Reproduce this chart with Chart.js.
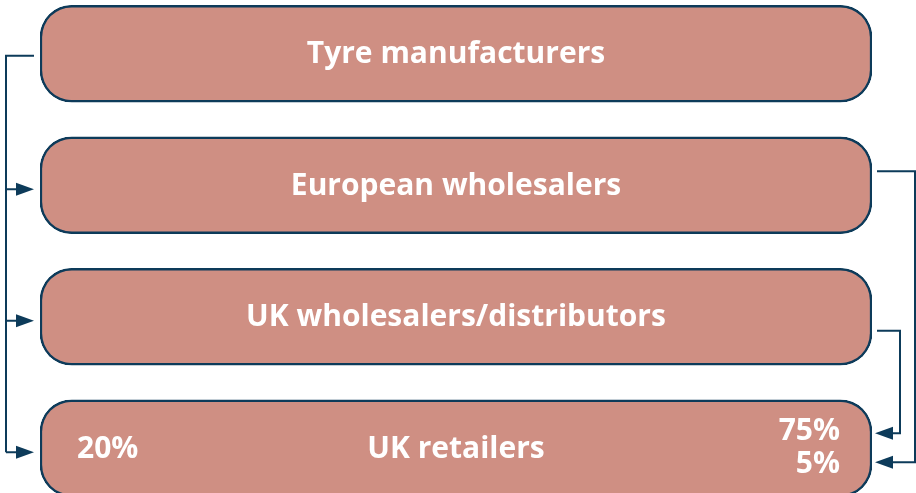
<!DOCTYPE html>
<html>
<head>
<meta charset="utf-8">
<script src="https://cdn.jsdelivr.net/npm/chart.js@4"></script>
<style>
  html, body { margin: 0; padding: 0; background: #fff; overflow: hidden; }
  #wrap { margin-top: -12px; width: 916px; height: 526px; }
</style>
</head>
<body>
<div id="wrap"><canvas id="flowChart" width="916" height="526"></canvas></div>
<script>
// supply chain stages, top to bottom
const stages = ['Tyre manufacturers', 'European wholesalers', 'UK wholesalers/distributors', 'UK retailers'];
// share of UK retailers' supply by source (%)
const shareSources = ['Tyre manufacturers', 'UK wholesalers/distributors', 'European wholesalers'];
const shareValues = [20, 75, 5];
// routes drawn on the left (from manufacturers) and right side
const leftRoutesTo = ['European wholesalers', 'UK wholesalers/distributors', 'UK retailers'];
const rightRoutesFrom = ['European wholesalers', 'UK wholesalers/distributors'];

const NAVY = '#0d3b5a';
const FILL = '#cf8f83';
const FONT = 'bold 30px "Open Sans", "Noto Sans", sans-serif';

function arrowHead(ctx, tipX, y, dir) {
    // dir = 1 points right, -1 points left
    ctx.beginPath();
    ctx.moveTo(tipX, y);
    ctx.lineTo(tipX - dir * 18, y - 6.5);
    ctx.lineTo(tipX - dir * 18, y + 6.5);
    ctx.closePath();
    ctx.fill();
}

const flowPlugin = {
    id: 'flow',
    afterDatasetsDraw(chart) {
        const ctx = chart.ctx;
        const bars = chart.getDatasetMeta(0).data;
        const box = name => {
            const p = bars[stages.indexOf(name)].getProps(['x', 'y', 'base', 'height'], true);
            return { left: Math.min(p.x, p.base), right: Math.max(p.x, p.base), y: p.y };
        };
        ctx.save();

        // box titles
        ctx.fillStyle = '#fff';
        ctx.font = FONT;
        ctx.textAlign = 'center';
        ctx.textBaseline = 'middle';
        stages.forEach(s => {
            const b = box(s);
            ctx.fillText(s, (b.left + b.right) / 2, b.y + 1);
        });

        // shares inside the retailers box
        const ret = box('UK retailers');
        shareSources.forEach((src, i) => {
            const txt = shareValues[i] + '%';
            if (src === 'Tyre manufacturers') {
                ctx.textAlign = 'left';
                ctx.fillText(txt, ret.left + 37, ret.y + 1);
            } else {
                const rank = rightRoutesFrom.length - 1 - rightRoutesFrom.indexOf(src);
                ctx.textAlign = 'right';
                ctx.fillText(txt, ret.right - 32, ret.y + (rank === 0 ? -17 : 16));
            }
        });

        // connectors
        ctx.strokeStyle = NAVY;
        ctx.fillStyle = NAVY;
        ctx.lineWidth = 2;
        const top = box('Tyre manufacturers');
        const lineX = 6;
        const lastY = box(leftRoutesTo[leftRoutesTo.length - 1]).y + 4;
        ctx.beginPath();
        ctx.moveTo(top.left - 6, top.y + 2);
        ctx.lineTo(lineX, top.y + 2);
        ctx.lineTo(lineX, lastY);
        ctx.stroke();
        leftRoutesTo.forEach(t => {
            const b = box(t);
            ctx.beginPath();
            ctx.moveTo(lineX, b.y + 4);
            ctx.lineTo(b.left - 16, b.y + 4);
            ctx.stroke();
            arrowHead(ctx, b.left - 6, b.y + 4, 1);
        });

        rightRoutesFrom.forEach(src => {
            const b = box(src);
            const outer = src === 'European wholesalers';
            const fromY = b.y + (outer ? -14 : 14);
            const toY = ret.y + (outer ? 14 : -15);
            const xv = outer ? 915 : 900;
            ctx.beginPath();
            ctx.moveTo(b.right + 5, fromY);
            ctx.lineTo(xv, fromY);
            ctx.lineTo(xv, toY);
            ctx.lineTo(ret.right + 18, toY);
            ctx.stroke();
            arrowHead(ctx, ret.right + 3, toY, -1);
        });
        ctx.restore();
    }
};

new Chart(document.getElementById('flowChart'), {
    type: 'bar',
    data: {
        labels: stages,
        datasets: [{
            data: stages.map(() => [0, 1]),
            backgroundColor: FILL,
            borderColor: NAVY,
            borderWidth: 2.5,
            borderRadius: 32,
            borderSkipped: false,
            barThickness: 97
        }]
    },
    options: {
        indexAxis: 'y',
        responsive: false,
        animation: false,
        layout: { padding: { left: 40, right: 44, top: 0, bottom: 0 } },
        scales: {
            x: { type: 'linear', min: 0, max: 1, display: false },
            y: { display: false, offset: true }
        },
        plugins: { legend: { display: false }, tooltip: { enabled: false } }
    },
    plugins: [flowPlugin]
});
</script>
</body>
</html>
